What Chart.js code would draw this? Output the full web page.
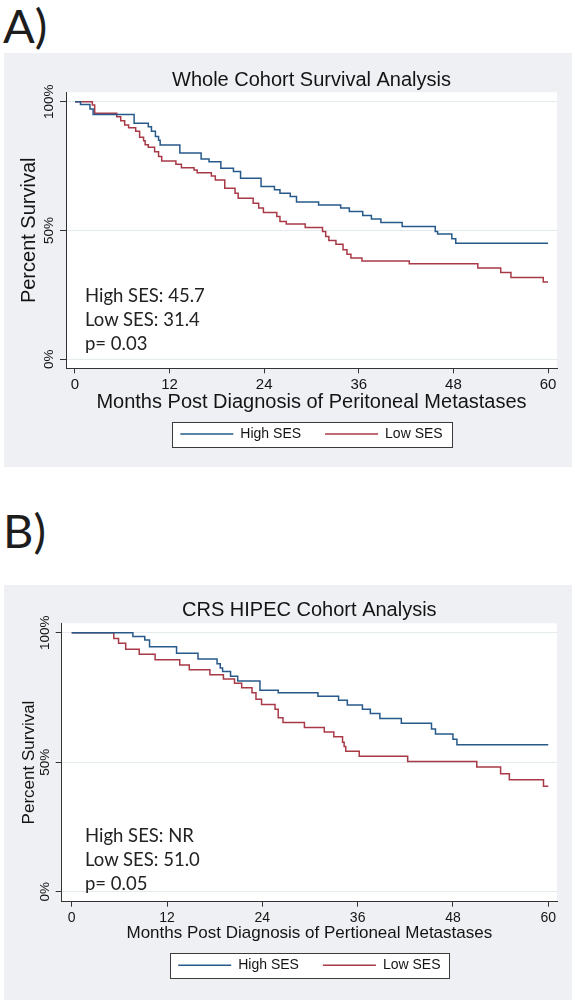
<!DOCTYPE html>
<html>
<head>
<meta charset="utf-8">
<script src="https://cdn.jsdelivr.net/npm/chart.js@4.4.1/dist/chart.umd.min.js"></script>
<style>
    body { margin: 0; background: #fff; width: 575px; height: 1001px; position: relative; overflow: hidden; font-family: Lato, sans-serif; }
    .tag { position: absolute; left: 3px; font-size: 47px; line-height: 47px; color: #1d1d1d; }
    .panel { position: absolute; left: 4px; width: 568px; background: #eef0f3; }
    .panel canvas { display: block; }
    .note { position: absolute; left: 85px; font-size: 18.5px; line-height: 24px; color: #222; }
</style>
</head>
<body>
<div class="tag" style="top:2px">A)</div>
<div class="panel" style="top:53px;height:414px"><canvas id="chartA" width="568" height="414"></canvas></div>
<div class="note" style="top:283px">High SES: 45.7<br>Low SES: 31.4<br>p= 0.03</div>

<div class="tag" style="top:507px">B)</div>
<div class="panel" style="top:585px;height:415px"><canvas id="chartB" width="568" height="415"></canvas></div>
<div class="note" style="top:823px">High SES: NR<br>Low SES: 51.0<br>p= 0.05</div>

<script>
// ticks and labels
const monthTicks = [0, 12, 24, 36, 48, 60];
const percentTicks = [0, 50, 100];
const seriesLabels = ['High SES', 'Low SES'];

// A) whole cohort - Kaplan-Meier steps (month, % surviving)
const wholeHighMonths = [0, 0.7, 1.9, 2.3, 7.5, 9.3, 9.7, 10.2, 10.6, 10.8, 13.3, 16.0, 17.0, 18.5, 20.1, 21.0, 23.6, 25.3, 26.0, 27.3, 28.1, 30.9, 33.7, 34.8, 36.5, 37.6, 38.8, 41.5, 45.7, 46.0, 47.8, 48.3, 60];
const wholeHighSurv = [100, 98.9, 97.2, 95.0, 91.6, 90.3, 88.5, 86.5, 85.0, 83.2, 80.1, 77.8, 76.7, 74.2, 72.9, 70.3, 67.1, 65.8, 64.5, 63.2, 61.1, 59.9, 58.7, 57.4, 55.8, 54.5, 53.1, 51.6, 49.6, 48.6, 46.8, 45.1, 45.1];
const wholeLowMonths = [0, 2.2, 2.5, 5.3, 5.8, 6.3, 6.8, 7.7, 8.2, 8.7, 8.9, 9.3, 10.1, 10.6, 11.0, 12.8, 13.5, 15.1, 15.5, 17.3, 17.8, 19.0, 20.3, 20.7, 22.6, 23.3, 23.9, 25.6, 26.0, 26.8, 29.2, 31.4, 31.8, 32.2, 33.1, 34.0, 34.5, 35.0, 36.4, 42.4, 51.1, 54.0, 55.3, 59.4, 60];
const wholeLowSurv = [100, 98.7, 95.5, 94.2, 92.6, 91.0, 89.9, 88.5, 86.2, 84.8, 83.3, 82.3, 80.6, 78.7, 77.0, 75.7, 74.4, 73.5, 72.4, 71.2, 69.6, 66.4, 64.5, 62.5, 60.6, 58.7, 57.0, 55.4, 53.5, 52.5, 51.2, 49.6, 47.7, 46.1, 44.7, 42.5, 40.8, 39.3, 38.2, 37.1, 35.4, 33.7, 31.8, 30.0, 30.0];

// B) CRS HIPEC cohort
const hipecHighMonths = [0, 7.7, 9.2, 9.8, 13.2, 15.9, 18.3, 18.7, 19.0, 20.0, 20.9, 23.7, 26.0, 31.0, 33.6, 34.7, 36.6, 37.6, 38.8, 41.5, 45.3, 45.8, 48.0, 48.5, 60];
const hipecHighSurv = [100, 98.5, 97.2, 94.6, 92.1, 89.8, 88.0, 86.4, 85.0, 83.2, 81.4, 77.8, 76.8, 75.5, 73.9, 72.1, 70.4, 68.8, 66.9, 65.0, 62.8, 60.9, 58.9, 56.7, 56.7];
const hipecLowMonths = [0, 5.3, 5.9, 6.8, 8.5, 10.5, 13.6, 14.8, 17.4, 19.1, 20.5, 21.4, 22.7, 23.2, 23.9, 25.6, 26.0, 26.6, 29.3, 31.8, 33.0, 34.1, 34.3, 34.5, 36.2, 42.3, 51.0, 54.0, 55.1, 59.4, 60];
const hipecLowSurv = [100, 97.8, 95.9, 93.6, 91.7, 89.6, 87.5, 85.7, 83.8, 82.1, 80.5, 78.7, 76.8, 74.3, 72.3, 70.4, 67.2, 65.3, 63.4, 61.7, 59.8, 57.7, 56.1, 54.2, 52.3, 50.3, 48.1, 45.5, 43.2, 40.7, 40.7];

const highColor = '#27598a';
const lowColor = '#a83a47';
const inkColor = '#141414';
const axisColor = '#333333';

Chart.defaults.font.family = "'Liberation Sans', Arial, sans-serif";

function toPoints(months, surv) {
    return months.map((m, i) => ({ x: m, y: surv[i] }));
}

// white plot region + framed legend, like the Stata scheme
const stataBackdrop = {
    id: 'stataBackdrop',
    beforeDraw(chart) {
        const ctx = chart.ctx;
        const a = chart.chartArea;
        ctx.save();
        ctx.fillStyle = '#ffffff';
        ctx.fillRect(a.left, a.top, a.right - a.left, a.bottom - a.top);
        const boxes = chart.legend && chart.legend.legendHitBoxes;
        if (boxes && boxes.length) {
            const first = boxes[0];
            const last = boxes[boxes.length - 1];
            const cy = first.top + first.height / 2;
            const x0 = Math.round(first.left - 8) + 0.5;
            const x1 = Math.round(last.left + last.width + 9) + 0.5;
            const y0 = Math.round(cy - 12.5) + 0.5;
            ctx.fillRect(x0, y0, x1 - x0, 25);
            ctx.strokeStyle = '#3a3a3a';
            ctx.lineWidth = 1;
            ctx.strokeRect(x0, y0, x1 - x0, 25);
        }
        ctx.restore();
    }
};

function buildChart(id, highM, highS, lowM, lowS, p) {
    const ctx = document.getElementById(id).getContext('2d');
    return new Chart(ctx, {
        type: 'line',
        data: {
            datasets: [
                {
                    label: seriesLabels[0],
                    data: toPoints(highM, highS),
                    borderColor: highColor,
                    borderWidth: 1.5,
                    pointRadius: 0,
                    stepped: true,
                    fill: false
                },
                {
                    label: seriesLabels[1],
                    data: toPoints(lowM, lowS),
                    borderColor: lowColor,
                    borderWidth: 1.5,
                    pointRadius: 0,
                    stepped: true,
                    fill: false
                }
            ]
        },
        options: {
            responsive: false,
            animation: false,
            layout: { padding: { left: 0, right: 15, top: 0, bottom: p.bottomPad } },
            plugins: {
                title: {
                    display: true,
                    text: p.title,
                    fullSize: false,
                    color: inkColor,
                    font: { size: 20, weight: 'normal' },
                    padding: { top: p.titleTop, bottom: p.titleBottom }
                },
                legend: {
                    position: 'bottom',
                    fullSize: false,
                    labels: {
                        usePointStyle: true,
                        pointStyle: 'line',
                        pointStyleWidth: 53,
                        color: inkColor,
                        padding: 24,
                        font: { size: 14 }
                    }
                },
                tooltip: { enabled: false }
            },
            scales: {
                x: {
                    type: 'linear',
                    min: p.xMin,
                    max: p.xMax,
                    afterBuildTicks: s => { s.ticks = monthTicks.map(v => ({ value: v })); },
                    afterFit: s => { s.height = p.xHeight; },
                    grid: { drawOnChartArea: false, tickLength: 5, tickColor: axisColor },
                    border: { color: axisColor, width: 1 },
                    ticks: { color: inkColor, padding: p.xTickPad, autoSkip: false, maxRotation: 0, font: { size: p.xTickSize } },
                    title: {
                        display: true,
                        text: p.xTitle,
                        color: inkColor,
                        font: { size: p.axisTitleSize },
                        padding: { top: 0, bottom: p.xTitleBottom }
                    }
                },
                y: {
                    min: p.yMin,
                    max: p.yMax,
                    afterBuildTicks: s => { s.ticks = percentTicks.map(v => ({ value: v })); },
                    afterFit: s => { s.width = p.yWidth; },
                    grid: { color: '#e3ebef', tickLength: 6, tickColor: axisColor },
                    border: { color: axisColor, width: 1 },
                    ticks: {
                        color: inkColor,
                        minRotation: 90,
                        maxRotation: 90,
                        crossAlign: 'center',
                        padding: -7,
                        font: { size: 13.5 },
                        callback: v => v + '%'
                    },
                    title: {
                        display: true,
                        text: 'Percent Survival',
                        color: inkColor,
                        font: { size: p.axisTitleSize },
                        padding: { top: p.yTitleLeft, bottom: 0 }
                    }
                }
            }
        },
        plugins: [stataBackdrop]
    });
}

buildChart('chartA', wholeHighMonths, wholeHighSurv, wholeLowMonths, wholeLowSurv, {
    title: 'Whole Cohort Survival Analysis',
    xTitle: 'Months Post Diagnosis of Peritoneal Metastases',
    titleTop: 15.7, titleBottom: -0.4,
    bottomPad: 16,
    xMin: -1.14, xMax: 61.14, yMin: -3.49, yMax: 103.65,
    xHeight: 34.7, yWidth: 62,
    xTickPad: 2.4, xTickSize: 15, xTitleBottom: -11,
    axisTitleSize: 20, yTitleLeft: 13.3
});

buildChart('chartB', hipecHighMonths, hipecHighSurv, hipecLowMonths, hipecLowSurv, {
    title: 'CRS HIPEC Cohort Analysis',
    xTitle: 'Months Post Diagnosis of Pertioneal Metastases',
    titleTop: 13, titleBottom: 1.3,
    bottomPad: 17.8,
    xMin: -1.26, xMax: 61.1, yMin: -3.86, yMax: 103.63,
    xHeight: 32.5, yWidth: 57.7,
    xTickPad: 3.2, xTickSize: 14, xTitleBottom: -9.3,
    axisTitleSize: 17, yTitleLeft: 15.1
});
</script>
</body>
</html>
